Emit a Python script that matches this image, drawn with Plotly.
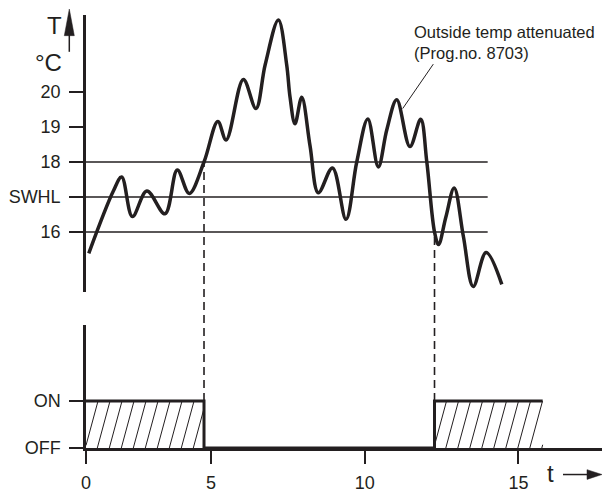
import plotly.graph_objects as go

# ---------------- data ----------------
t_curve = [1.02, 1.82, 2.09, 2.44, 2.91, 3.50, 3.90, 4.29, 4.77, 5.22, 5.49, 6.05,
           6.46, 6.76, 7.19, 7.46, 7.57, 7.73, 7.95, 8.22, 8.49, 8.95, 9.39, 9.74,
           10.10, 10.44, 10.72, 11.04, 11.47, 11.82, 12.02, 12.27, 12.40, 12.64,
           12.91, 13.21, 13.53, 13.95, 14.46]
temp_curve = [15.39, 17.17, 17.57, 16.44, 17.17, 16.52, 17.77, 17.10, 18.00, 19.16,
              18.63, 20.36, 19.53, 20.78, 22.06, 20.78, 19.85, 19.09, 19.85, 18.46,
              17.12, 17.83, 16.36, 18.00, 19.23, 17.86, 18.93, 19.78, 18.44, 19.22,
              18.00, 16.00, 15.64, 16.43, 17.26, 15.87, 14.44, 15.41, 14.50]

thresholds = [16, 17, 18]
threshold_end = 14.0

y_tick_vals = [16, 17, 18, 19, 20]
y_tick_labels = ["16", "SWHL", "18", "19", "20"]

x_origin = 0.93
x_tick_vals = [x_origin, 5, 10, 15]
x_tick_labels = ["0", "5", "10", "15"]

state_t = [x_origin, 4.77, 4.77, 12.27, 12.27, 15.79]
state_v = [1, 1, 0, 0, 1, 1]
switch_off_t, switch_off_temp = 4.77, 18
switch_on_t, switch_on_temp = 12.27, 16
on_intervals = [(x_origin, 4.77), (12.27, 15.79)]

state_tick_vals = [0, 1]
state_tick_labels = ["OFF", "ON"]

annot_text = "Outside temp attenuated<br>(Prog.no. 8703)"

# ---------------- layout geometry (page pixels) ----------------
W, H = 602, 493
ML, MT = 86, 0
REF_LEFT, REF_TOP, REF_BOTTOM = ML, MT, 461
PH = REF_BOTTOM - REF_TOP
MB = H - REF_BOTTOM
PW = W - ML
MR = 0
INK = "#231f20"
FONT = "Liberation Sans, Arial, sans-serif"

x_range = [x_origin, 17.72]
top_dom = [(REF_BOTTOM - 300) / PH, (REF_BOTTOM - 15) / PH]
top_range = [14.297, 22.214]
bot_dom = [0, (REF_BOTTOM - 334) / PH]
bot_range = [0, 2.63]


def px(x):
    return (x - REF_LEFT) / PW


def py(y):
    return (REF_BOTTOM - y) / PH


def top_paper(v):
    return top_dom[0] + (v - top_range[0]) / (top_range[1] - top_range[0]) * (top_dom[1] - top_dom[0])


def bot_paper(v):
    return bot_dom[0] + (v - bot_range[0]) / (bot_range[1] - bot_range[0]) * (bot_dom[1] - bot_dom[0])


fig = go.Figure()

# threshold lines
for th in thresholds:
    fig.add_trace(go.Scatter(x=[x_origin, threshold_end], y=[th, th], mode="lines",
                             line=dict(color=INK, width=1.5), xaxis="x", yaxis="y",
                             hoverinfo="skip", showlegend=False))

# temperature curve
fig.add_trace(go.Scatter(x=t_curve, y=temp_curve, mode="lines",
                         line=dict(color=INK, width=3.5, shape="spline", smoothing=1.0),
                         xaxis="x", yaxis="y", showlegend=False))

# hatching of the ON intervals
t_per_px = (x_range[1] - x_range[0]) / PW
spacing = 12 * t_per_px
shift = 12.7 * t_per_px
hx, hy = [], []
for a, b in on_intervals:
    xb = a - shift
    while xb < b:
        ylo = max(0.0, (a - xb) / shift)
        yhi = min(1.0, (b - xb) / shift)
        if ylo < yhi:
            hx += [xb + shift * ylo, xb + shift * yhi, None]
            hy += [ylo, yhi, None]
        xb += spacing
fig.add_trace(go.Scatter(x=hx, y=hy, mode="lines", line=dict(color=INK, width=1),
                         xaxis="x", yaxis="y2", hoverinfo="skip", showlegend=False))

# ON/OFF step line
fig.add_trace(go.Scatter(x=state_t, y=state_v, mode="lines",
                         line=dict(color=INK, width=3), xaxis="x", yaxis="y2",
                         showlegend=False))

shapes = []
# dashed connectors from the switching points down to the ON level
for tt, tv in [(switch_off_t, switch_off_temp), (switch_on_t, switch_on_temp)]:
    shapes.append(dict(type="line", xref="x", yref="paper", x0=tt, x1=tt,
                       y0=bot_paper(1), y1=top_paper(tv),
                       line=dict(color=INK, width=1.6, dash="8px,5px")))
# leader line of the note
shapes.append(dict(type="line", xref="paper", yref="paper",
                   x0=px(433.3), y0=py(66), x1=px(402.7), y1=py(111.7),
                   line=dict(color=INK, width=1)))
# T axis arrow
shapes.append(dict(type="line", xref="paper", yref="paper",
                   x0=px(69.3), y0=py(53.3), x1=px(69.3), y1=py(34),
                   line=dict(color=INK, width=1.5)))
shapes.append(dict(type="path", xref="paper", yref="paper",
                   path=f"M {px(69.3)} {py(9.3)} L {px(64.3)} {py(36.7)} L {px(74.3)} {py(36.7)} Z",
                   fillcolor=INK, line=dict(color=INK, width=0.5)))
# t axis arrow
shapes.append(dict(type="line", xref="paper", yref="paper",
                   x0=px(563), y0=py(488.3), x1=px(590), y1=py(488.3),
                   line=dict(color=INK, width=1.5)))
shapes.append(dict(type="path", xref="paper", yref="paper",
                   path=f"M {px(602)} {py(488.3)} L {px(587)} {py(483.3)} L {px(587)} {py(493.3)} Z",
                   fillcolor=INK, line=dict(color=INK, width=0.5)))

annotations = [
    dict(text="T", x=px(54), y=py(26.7), xref="paper", yref="paper", showarrow=False,
         xanchor="center", yanchor="middle", font=dict(size=24, color=INK, family=FONT)),
    dict(text="°C", x=px(63.5), y=py(64.5), xref="paper", yref="paper", showarrow=False,
         xanchor="right", yanchor="middle", font=dict(size=24, color=INK, family=FONT)),
    dict(text="t", x=px(550), y=py(487), xref="paper", yref="paper", showarrow=False,
         xanchor="center", yanchor="middle", font=dict(size=24, color=INK, family=FONT)),
    dict(text=annot_text, x=px(412), y=py(44), xref="paper", yref="paper", showarrow=False,
         xanchor="left", yanchor="middle", align="left",
         font=dict(size=16.5, color=INK, family=FONT)),
]

axis_common = dict(showgrid=False, zeroline=False, showline=True, linecolor=INK,
                   ticks="outside", tickcolor=INK, tickwidth=2,
                   tickfont=dict(size=18, color=INK, family=FONT))

fig.update_layout(
    width=W, height=H, margin=dict(l=ML, r=MR, t=MT, b=MB),
    paper_bgcolor="white", plot_bgcolor="rgba(0,0,0,0)",
    showlegend=False, shapes=shapes, annotations=annotations,
    xaxis=dict(domain=[0, 1], range=x_range, anchor="y2", tickvals=x_tick_vals,
               ticktext=x_tick_labels, ticklen=13, linewidth=3, ticklabelstandoff=3,
               **axis_common),
    yaxis=dict(domain=top_dom, range=top_range, anchor="x", tickvals=y_tick_vals,
               ticktext=y_tick_labels, ticklen=14, linewidth=2.5, ticklabelstandoff=5,
               **axis_common),
    yaxis2=dict(domain=bot_dom, range=bot_range, anchor="x", tickvals=state_tick_vals,
                ticktext=state_tick_labels, ticklen=14, linewidth=2.5, ticklabelstandoff=5,
                **axis_common),
)

fig.write_html("out.html", config={"displayModeBar": False},
               post_script="document.body.style.margin='0';document.body.style.overflow='hidden';")
